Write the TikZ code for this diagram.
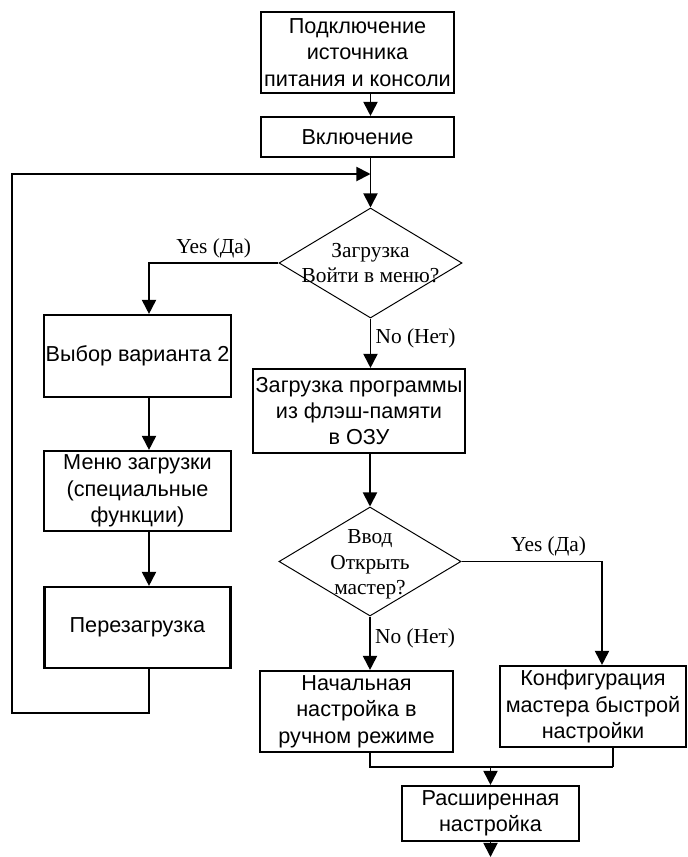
\documentclass[tikz,border=0pt]{standalone}
\usepackage{fontspec}
\setmainfont{Liberation Serif}
\setsansfont{Liberation Sans}
\usetikzlibrary{shapes.geometric, arrows.meta, positioning}

\begin{document}
\begin{tikzpicture}[
      x=0.025cm, y=-0.025cm,
      font=\sffamily\fontsize{15.4}{18.8}\selectfont, % Arial-like text in the blocks
      base/.style = {draw, text centered, inner sep=0pt},
      % --- Block styles ---
      box/.style = {base, rectangle, line width=1.5pt, align=center},
      decision/.style = {base, diamond, line width=0.7pt},
      dtext/.style = {font=\rmfamily\fontsize{15.2}{17.9}\selectfont, align=center, inner sep=0pt},
      lbl/.style = {font=\rmfamily\fontsize{15.2}{17}\selectfont, inner sep=3pt},
      arrow/.style = {line width=1.3pt, -{Triangle[length=10pt, width=10pt]}},
      link/.style = {line width=1.3pt}
    ]

      \useasboundingbox (0,0) rectangle (688,857);

      % --- MAIN COLUMN ---
      \node [box, minimum width=4.825cm, minimum height=2.025cm] (conn) at (357.5,52.5) {Подключение\\источника\\питания и консоли};
      \node [box, minimum width=4.825cm, minimum height=1cm] (power) at (357.5,137) {Включение};
      \node [decision, minimum width=4.575cm, minimum height=2.75cm] (ask1) at (370.5,263) {};
      \node [dtext] (ask1txt) at (ask1) {Загрузка\\Войти в меню?};
      \node [box, minimum width=5.3cm, minimum height=2.1cm] (load) at (359,411) {Загрузка программы\\из флэш-памяти\\в ОЗУ};
      \node [decision, minimum width=4.55cm, minimum height=2.725cm] (ask2) at (370,561.5) {};
      \node [dtext] (ask2txt) at ([yshift=-2pt]ask2.center) {Ввод\\Открыть\\мастер?};
      \node [box, minimum width=4.825cm, minimum height=2.025cm] (manual) at (356.5,711.5) {Начальная\\настройка в\\ручном режиме};
      \node [box, minimum width=4.65cm, minimum height=2.025cm] (wizard) at (593,706.5) {Конфигурация\\мастера быстрой\\настройки};
      \node [box, minimum width=4.425cm, minimum height=1.375cm] (adv) at (490.5,813.5) {Расширенная\\настройка};

      % --- BOOT MENU BRANCH ---
      \node [box, minimum width=4.675cm, minimum height=2.05cm] (sel) at (137.5,356) {Выбор варианта 2};
      \node [box, minimum width=4.675cm, minimum height=2cm] (bootmenu) at (137.5,491) {Меню загрузки\\(специальные\\функции)};
      \node [box, minimum width=4.65cm, minimum height=2.025cm] (reboot) at (137.5,627.5) {Перезагрузка};

      % helper points for the bent lines
      \coordinate (lx) at (149,0);
      \coordinate (rx) at (602,0);
      \coordinate (loopbl) at (12,713);
      \coordinate (looptop) at (370.5,174);
      \coordinate (merge) at (613,767);
      \coordinate (out) at (492,857);

      % --- Connections ---
      \draw [arrow] (conn.south -| ask1.north) -- (power.north -| ask1.north);
      \draw [arrow] (power.south -| ask1.north) -- (ask1.north);
      \draw [arrow] (ask1.west) -| node[lbl, pos=0.25, anchor=south] (yes1) {Yes (Да)} (sel.north -| lx);
      \draw [arrow] (sel.south -| lx) -- (bootmenu.north -| lx);
      \draw [arrow] (bootmenu.south -| lx) -- (reboot.north -| lx);
      \draw [arrow] (reboot.south -| lx) |- (loopbl) |- (looptop);
      \draw [arrow] (ask1.south) -- node[lbl, pos=0.4, anchor=west] (no1) {No (Нет)} (ask1.south |- load.north);
      \draw [arrow] (load.south -| ask2.north) -- (ask2.north);
      \draw [arrow] (ask2.east) -| node[lbl, pos=0.31, anchor=south] (yes2) {Yes (Да)} (wizard.north -| rx);
      \draw [arrow] (ask2.south) -- node[lbl, pos=0.4, anchor=west] (no2) {No (Нет)} (ask2.south |- manual.north);
      \draw [link] (manual.south -| ask2.south) |- (merge);
      \draw [line width=0.8pt] (wizard.south -| merge) -- (merge);
      \draw [arrow] (adv.north |- merge) -- (adv.north);
      \draw [arrow] (adv.south) -- (adv.south |- out);

    \end{tikzpicture}
\end{document}
